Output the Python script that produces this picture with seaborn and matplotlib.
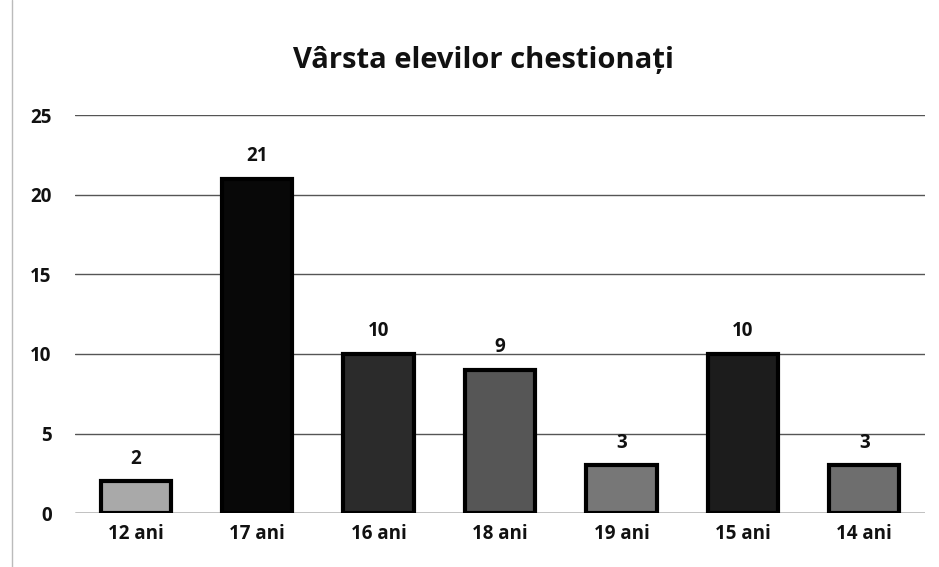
import matplotlib
matplotlib.use("Agg")
import matplotlib.pyplot as plt
import seaborn as sns
import pandas as pd

categories = ["12 ani", "17 ani", "16 ani", "18 ani", "19 ani", "15 ani", "14 ani"]
values = [2, 21, 10, 9, 3, 10, 3]
colors = ["#a9a9a9", "#080808", "#2b2b2b", "#565656", "#777777", "#1c1c1c", "#6e6e6e"]
yticks = [0, 5, 10, 15, 20, 25]
title = "Vârsta elevilor chestionați"

sns.set_theme(style="white")
plt.rcParams["font.family"] = ["Open Sans", "DejaVu Sans"]

df = pd.DataFrame({"cat": categories, "val": values})

fig = plt.figure(figsize=(9.39, 5.67), dpi=100)
ax = fig.add_axes([0.08, 0.095, 0.905, 0.702])

sns.barplot(data=df, x="cat", y="val", hue="cat", palette=colors, legend=False,
            width=0.58, edgecolor="black", linewidth=3.0, ax=ax, zorder=3)

ax.set_ylim(0, 25)
ax.set_yticks(yticks)
ax.grid(axis="y", color="#555555", linewidth=1.0, zorder=0)
ax.axhline(0, color="#555555", linewidth=1.0, zorder=1)
for s in ax.spines.values():
    s.set_visible(False)
ax.set_xlabel("")
ax.set_ylabel("")
ax.tick_params(axis="both", length=0, labelsize=13.5)
ax.tick_params(axis="y", pad=17)
ax.tick_params(axis="x", pad=8)
for lab in ax.get_xticklabels() + ax.get_yticklabels():
    lab.set_fontweight("bold")
    lab.set_color("#111111")

for c in ax.containers:
    ax.bar_label(c, padding=9, fontsize=13.5, fontweight="bold", color="#111111")

fig.text(0.515, 0.893, title, ha="center", va="center", fontsize=21,
         fontweight="bold", color="#111111")

fig.add_artist(plt.Line2D([0.013, 0.013], [0.0, 1.0], color="#bbbbbb", linewidth=1.0))

fig.savefig("out.png", dpi=100, facecolor="white")
